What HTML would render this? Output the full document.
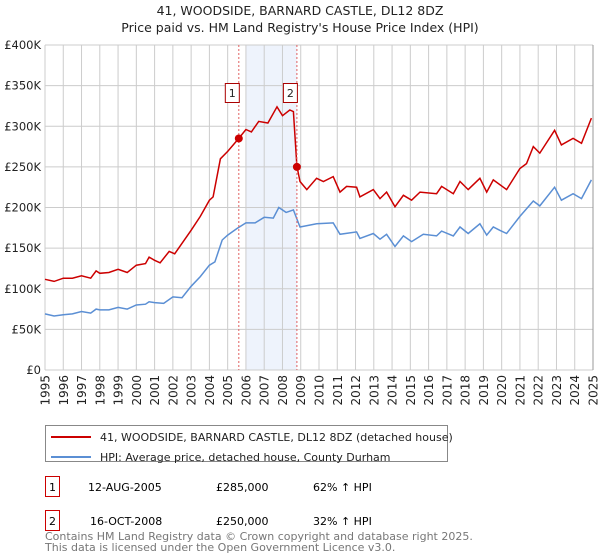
<!DOCTYPE html>
<html><head><meta charset="utf-8"><style>
body{margin:0;background:#fff;font-family:"Liberation Sans","DejaVu Sans",sans-serif;}
svg{display:block}
</style></head><body>
<svg id="c" width="600" height="560" xmlns="http://www.w3.org/2000/svg" font-family="DejaVu Sans, Liberation Sans, sans-serif">
<text x="300" y="15" text-anchor="middle" font-size="12.5" fill="#222">41, WOODSIDE, BARNARD CASTLE, DL12 8DZ</text>
<text x="300" y="32" text-anchor="middle" font-size="12.5" fill="#222">Price paid vs. HM Land Registry's House Price Index (HPI)</text>
<g id="grid"></g><g id="series"></g><g id="ann"></g>
<g>
<rect x="45.5" y="425.5" width="402" height="36" fill="#fff" stroke="#888"/>
<line x1="51" y1="437" x2="91" y2="437" stroke="#cc0000" stroke-width="2"/>
<text x="100" y="441" font-size="11" fill="#222">41, WOODSIDE, BARNARD CASTLE, DL12 8DZ (detached house)</text>
<line x1="51" y1="457" x2="91" y2="457" stroke="#5b8fd4" stroke-width="2"/>
<text x="100" y="461" font-size="11" fill="#222">HPI: Average price, detached house, County Durham</text>
</g>
<g>
<rect x="45.5" y="476.5" width="14" height="20" fill="none" stroke="#cc0000"/>
<text x="52.5" y="491" text-anchor="middle" font-size="11">1</text>
<text x="88" y="491" font-size="11">12-AUG-2005</text>
<text x="216" y="491" font-size="11">£285,000</text>
<text x="313" y="491" font-size="11">62% ↑ HPI</text>
</g>
<g>
<rect x="45.5" y="510.5" width="14" height="20" fill="none" stroke="#cc0000"/>
<text x="52.5" y="525" text-anchor="middle" font-size="11">2</text>
<text x="90" y="525" font-size="11">16-OCT-2008</text>
<text x="216" y="525" font-size="11">£250,000</text>
<text x="313" y="525" font-size="11">32% ↑ HPI</text>
</g>
<text x="45" y="540" font-size="11" fill="#777">Contains HM Land Registry data © Crown copyright and database right 2025.</text>
<text x="45" y="551" font-size="11" fill="#777">This data is licensed under the Open Government Licence v3.0.</text>
</svg>
<script>
const yTicks=[0,50,100,150,200,250,300,350,400];
const yTickLabels=["£0","£50K","£100K","£150K","£200K","£250K","£300K","£350K","£400K"];
const xYears=[1995,1996,1997,1998,1999,2000,2001,2002,2003,2004,2005,2006,2007,2008,2009,2010,2011,2012,2013,2014,2015,2016,2017,2018,2019,2020,2021,2022,2023,2024,2025];
const hpiYears=[1995,1995.5,1996,1996.5,1997,1997.5,1997.8,1998,1998.5,1999,1999.5,2000,2000.5,2000.7,2001,2001.5,2002,2002.5,2003,2003.5,2004,2004.3,2004.7,2005,2005.5,2006,2006.5,2007,2007.5,2007.8,2008.2,2008.6,2008.96,2009.87,2010.78,2011.15,2012.06,2012.24,2012.97,2013.34,2013.7,2014.16,2014.62,2015.07,2015.71,2016.44,2016.71,2017.35,2017.72,2018.17,2018.81,2019.18,2019.54,2019.9,2020.27,2021.0,2021.73,2022.09,2022.9,2023.27,2023.91,2024.37,2024.91];
const hpiValues=[69,66.5,68,69,72,70,75,74,74,77,75,80,81,84,83,82,90,89,103,115,129,133,160,166,174,181,181,188,187,200,194,197,176,180,181,167,170,162,168,161,167,152,165,158,167,165,171,165,176,168,180,166,176,172,168,189,208,202,225,209,217,211,234];
const priceYears=[1995,1995.5,1996,1996.5,1997,1997.5,1997.8,1998,1998.5,1999,1999.5,2000,2000.5,2000.7,2001,2001.3,2001.8,2002.1,2003,2003.5,2004,2004.2,2004.6,2005,2005.61,2006,2006.3,2006.7,2007.2,2007.7,2008.0,2008.4,2008.6,2008.79,2008.96,2009.33,2009.87,2010.24,2010.78,2011.15,2011.51,2012.06,2012.24,2012.97,2013.34,2013.7,2014.16,2014.62,2015.07,2015.53,2016.44,2016.71,2017.35,2017.72,2018.17,2018.81,2019.18,2019.54,2020.27,2021.0,2021.36,2021.73,2022.09,2022.9,2023.27,2023.91,2024.37,2024.91];
const priceValues=[111.6,109,113,113,116,113,122,119,120,124,120,129,131,139,135,132,146,143,172,189,209,213,260,269,285,296,293,306,304,324,313,320,318,251,232,222,236,232,238,219,226,225,213,222,211,219,201,215,209,219,217,226,217,232,222,236,219,234,222,248,254,275,267,295,277,285,279,310];
const sales=[{year:2005.61,value:285,label:"1"},{year:2008.79,value:250,label:"2"}];
const NS="http://www.w3.org/2000/svg";
const X0=45,X1=593,Y0=370,Y1=45;
const xs=y=>X0+(y-1995)/30*(X1-X0);
const ys=v=>Y0-v/400*(Y0-Y1);
function mk(tag,attrs,parent){const e=document.createElementNS(NS,tag);for(const k in attrs)e.setAttribute(k,attrs[k]);parent.appendChild(e);return e;}
const grid=document.getElementById('grid'),ser=document.getElementById('series'),ann=document.getElementById('ann');
const band=mk('rect',{x:xs(2006),y:Y1,width:xs(sales[1].year)-xs(2006),height:Y0-Y1,fill:'#eef3fc'},grid);


xYears.forEach(yr=>{
 const l=mk('line',{x1:xs(yr),x2:xs(yr),y1:Y1,y2:Y0,stroke:'#cccccc','stroke-width':1},grid);
 
 
 const t=mk('text',{x:0,y:0,transform:`translate(${xs(yr)+4.5},${Y0+5}) rotate(-90)`,'text-anchor':'end','font-size':12,fill:'#222'},grid);
 t.textContent=yr;
 
 
});
yTicks.forEach((v,i)=>{
 const l=mk('line',{x1:X0,x2:X1,y1:ys(v),y2:ys(v),stroke:'#cccccc','stroke-width':1},grid);
 
 
 const t=mk('text',{x:X0-4,y:ys(v)+4,'text-anchor':'end','font-size':11.5,fill:'#222'},grid);
 t.textContent=yTickLabels[i];
 
 
});
const pth=(xa,va)=>xa.map((y,i)=>(i?'L':'M')+xs(y).toFixed(1)+','+ys(va[i]).toFixed(1)).join('');
const h=mk('path',{d:pth(hpiYears,hpiValues),fill:'none',stroke:'#5b8fd4','stroke-width':1.5},ser);


const p=mk('path',{d:pth(priceYears,priceValues),fill:'none',stroke:'#cc0000','stroke-width':1.5},ser);


sales.forEach(s=>{
 const l=mk('line',{x1:xs(s.year),x2:xs(s.year),y1:Y1,y2:Y0,stroke:'#e06060','stroke-width':1,'stroke-dasharray':'2,2'},ann);
 
 
 const c=mk('circle',{cx:xs(s.year),cy:ys(s.value),r:4,fill:'#cc0000'},ann);
 
 
 const r=mk('rect',{x:xs(s.year)-13.5,y:83.5,width:14,height:19,fill:'#fff',stroke:'#aa0000'},ann);
 
 
 const t=mk('text',{x:xs(s.year)-6.5,y:97,'text-anchor':'middle','font-size':11,fill:'#222'},ann);
 t.textContent=s.label;
 
 
});
mk('line',{x1:X1,x2:X1,y1:Y1,y2:Y0,stroke:'#999'},ann);
</script>
</body></html>
